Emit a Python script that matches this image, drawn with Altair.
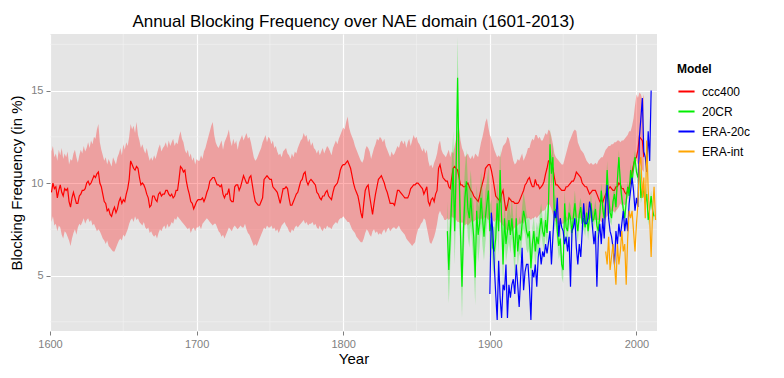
import altair as alt
import pandas as pd

# ---------------- data ----------------
ccc400_start = 1601
ccc400 = [
    9.5, 10.0, 9.7, 9.8, 9.2, 9.6, 9.9, 9.5, 9.3, 9.7,
    9.6, 9.7, 9.0, 8.7, 9.2, 9.5, 9.2, 8.9, 8.9, 9.3,
    9.4, 9.6, 9.6, 9.7, 10.0, 10.1, 9.9, 10.0, 10.2, 10.4,
    10.3, 10.5, 10.6, 10.0, 9.8, 9.4, 9.0, 8.9, 8.5, 8.6,
    8.3, 8.2, 8.5, 8.7, 8.4, 8.6, 9.0, 9.2, 8.9, 9.1,
    9.0, 9.4, 9.7, 10.2, 11.2, 11.0, 10.8, 10.7, 10.9, 10.8,
    10.3, 9.9, 10.0, 9.9, 9.7, 9.4, 9.2, 8.7, 8.8, 9.3,
    9.3, 9.1, 9.0, 9.4, 9.5, 9.3, 9.4, 9.4, 9.6, 9.6,
    9.4, 9.3, 9.4, 9.2, 9.3, 9.6, 9.6, 10.2, 10.9, 10.8,
    10.6, 10.7, 10.1, 9.7, 9.4, 9.0, 8.9, 8.6, 8.8, 9.0,
    9.1, 9.1, 9.1, 9.2, 9.0, 9.2, 9.5, 9.7, 10.1, 10.2,
    10.3, 10.3, 10.1, 9.9, 9.9, 9.8, 9.9, 9.4, 9.2, 9.4,
    9.4, 9.7, 9.1, 9.0, 9.0, 9.8, 9.9, 9.9, 9.6, 9.8,
    10.1, 10.4, 10.2, 10.0, 10.0, 10.3, 10.4, 9.9, 9.4, 9.0,
    8.9, 8.8, 8.8, 9.0, 9.2, 10.2, 10.3, 10.4, 10.3, 10.2,
    10.2, 9.8, 9.7, 9.6, 9.5, 9.2, 8.9, 9.3, 9.7, 9.7,
    9.8, 9.7, 9.2, 8.8, 8.8, 9.0, 9.2, 9.4, 9.5, 9.8,
    10.1, 10.2, 10.5, 10.6, 10.1, 9.9, 10.1, 10.2, 10.1, 10.0,
    9.9, 9.5, 9.4, 9.2, 9.1, 9.3, 9.3, 9.5, 9.6, 9.3,
    9.2, 9.1, 9.5, 9.8, 9.9, 10.0, 10.3, 10.7, 10.9, 11.0,
    11.0, 11.1, 11.2, 11.0, 10.8, 10.4, 10.0, 9.7, 9.5, 9.3,
    8.9, 8.4, 8.1, 8.9, 9.6, 9.8, 9.9, 9.3, 8.8, 8.3,
    8.9, 9.4, 9.8, 10.2, 10.3, 10.4, 10.2, 10.0, 9.7, 9.5,
    9.2, 8.9, 8.9, 8.9, 8.8, 9.2, 9.6, 9.6, 9.5, 9.4,
    9.3, 9.2, 9.2, 9.2, 9.4, 9.7, 9.8, 9.9, 9.9, 10.0,
    10.0, 9.9, 9.8, 9.7, 9.4, 9.6, 9.8, 9.0, 8.8, 9.1,
    9.2, 9.0, 9.4, 9.6, 10.8, 11.0, 10.6, 10.3, 10.2, 10.1,
    10.1, 9.8, 9.7, 10.3, 10.8, 10.9, 10.8, 10.7, 10.3, 9.9,
    9.9, 9.8, 9.8, 9.9, 10.0, 9.8, 9.6, 9.5, 9.3, 9.2,
    9.1, 9.0, 9.3, 9.7, 10.0, 10.3, 10.8, 10.9, 11.0, 11.0,
    10.7, 10.3, 9.8, 9.3, 9.2, 9.1, 9.0, 9.4, 9.6, 9.0,
    8.5, 8.8, 9.2, 9.1, 9.0, 9.0, 8.9, 8.9, 8.9, 9.0,
    9.2, 9.4, 9.6, 9.9, 10.0, 10.2, 10.3, 10.0, 9.8, 9.8,
    10.2, 9.9, 9.9, 9.7, 9.8, 9.9, 10.1, 10.5, 10.8, 11.2,
    11.2, 11.0, 10.8, 10.3, 9.9, 9.9, 9.8, 9.7, 9.6, 9.6,
    9.6, 9.8, 9.8, 9.9, 10.0, 10.1, 10.1, 10.3, 10.6, 10.5,
    10.4, 10.3, 10.0, 9.9, 9.8, 9.8, 9.6, 9.4, 9.5, 9.6,
    9.6, 9.6, 9.4, 9.2, 9.0, 9.1, 8.95, 9.2, 9.4, 9.5,
    9.7, 9.8, 9.7, 9.6, 9.6, 9.8, 9.8, 10.0, 9.9, 9.7,
    9.7, 9.5, 9.4, 9.6, 9.8, 10.1, 10.6, 11.0, 11.3, 11.4,
    11.8, 12.5, 12.4, 12.3, 11.4,
]
ccc400_upper = [
    11.7, 12.0, 11.4, 11.6, 11.2, 11.8, 11.5, 11.9, 11.3, 11.6,
    11.4, 11.7, 11.0, 11.3, 11.2, 11.6, 11.8, 11.4, 11.1, 11.5,
    11.8, 11.6, 12.0, 11.7, 11.9, 12.2, 11.9, 12.3, 12.1, 12.5,
    12.4, 12.9, 13.2, 12.2, 11.8, 11.5, 11.2, 11.4, 11.0, 11.3,
    11.1, 10.9, 11.4, 11.2, 11.0, 11.4, 11.6, 11.9, 11.5, 12.1,
    11.8, 12.2, 12.0, 12.5, 13.2, 12.9, 13.1, 12.7, 13.3, 12.6,
    12.3, 11.9, 12.1, 11.8, 11.6, 11.9, 11.5, 11.2, 11.4, 11.2,
    11.5, 11.3, 11.6, 11.9, 12.1, 11.7, 11.9, 12.0, 12.2, 11.9,
    12.3, 12.0, 12.2, 12.4, 12.0, 12.2, 12.1, 12.5, 12.8, 12.4,
    12.2, 11.8, 11.6, 11.8, 11.4, 11.6, 11.2, 11.4, 11.0, 11.3,
    11.2, 11.2, 11.5, 11.3, 11.7, 11.9, 12.2, 12.5, 12.8, 13.1,
    13.3, 12.6, 12.2, 12.0, 11.9, 12.1, 12.3, 11.8, 12.2, 12.4,
    12.6, 12.9, 12.3, 12.0, 12.4, 12.1, 12.3, 11.8, 12.2, 12.4,
    12.6, 12.3, 12.5, 12.7, 12.4, 12.5, 12.2, 11.8, 11.4, 11.2,
    11.3, 11.5, 11.7, 11.9, 12.2, 12.4, 12.6, 12.2, 12.5, 12.4,
    12.1, 12.3, 11.9, 12.0, 11.7, 11.5, 11.6, 11.4, 11.7, 11.8,
    11.9, 11.6, 11.5, 11.3, 11.6, 11.4, 11.7, 11.6, 11.9, 12.1,
    12.3, 12.4, 12.7, 12.5, 12.6, 12.2, 12.4, 12.0, 12.2, 11.9,
    11.8, 11.6, 11.8, 11.5, 11.7, 11.9, 11.6, 11.8, 12.0, 11.9,
    11.7, 11.5, 11.9, 12.1, 12.3, 12.1, 12.4, 12.6, 12.8, 13.0,
    12.9, 13.3, 13.6, 13.0, 12.7, 12.5, 12.3, 12.0, 11.8, 11.6,
    11.4, 11.2, 11.1, 11.3, 11.8, 12.0, 11.9, 11.7, 11.3, 11.6,
    11.9, 12.1, 12.4, 12.3, 12.5, 12.4, 12.2, 12.4, 12.0, 11.8,
    11.6, 11.4, 11.7, 11.5, 11.6, 11.8, 12.0, 11.9, 12.2, 12.3,
    12.1, 12.3, 11.9, 12.2, 12.4, 12.0, 12.3, 12.6, 12.4, 12.5,
    12.2, 12.1, 11.9, 11.7, 11.9, 11.6, 11.8, 11.2, 10.9, 11.0,
    10.8, 11.1, 11.3, 11.6, 12.1, 12.3, 11.8, 11.6, 11.5, 11.4,
    11.6, 11.8, 11.4, 11.7, 11.6, 12.0, 12.4, 12.8, 13.0, 12.3,
    11.9, 11.7, 11.4, 11.5, 11.6, 11.4, 11.3, 11.5, 11.3, 11.6,
    11.5, 11.4, 11.8, 12.2, 12.5, 12.9, 13.3, 13.5, 13.0, 12.6,
    12.4, 12.1, 11.8, 11.6, 11.4, 11.5, 11.4, 11.7, 12.0, 12.1,
    12.2, 12.5, 12.4, 12.0, 11.6, 11.2, 11.0, 11.1, 11.3, 11.2,
    11.4, 11.6, 11.2, 11.4, 11.6, 11.9, 11.9, 12.2, 12.4, 12.3,
    12.6, 12.6, 12.4, 12.5, 12.3, 12.3, 12.5, 12.7, 12.6, 12.9,
    12.8, 12.5, 12.1, 11.6, 11.4, 11.3, 11.2, 11.1, 11.0, 11.0,
    11.3, 11.6, 11.9, 12.2, 12.4, 12.6, 12.8, 12.9, 12.8, 12.2,
    12.0, 11.8, 11.7, 11.6, 11.4, 11.2, 11.1, 11.0, 11.1, 11.0,
    11.0, 11.1, 11.0, 11.2, 11.3, 11.4, 11.4, 11.6, 11.8, 11.9,
    12.0, 12.0, 12.1, 12.1, 12.2, 12.2, 12.3, 12.3, 12.2, 12.3,
    12.3, 12.4, 12.5, 12.6, 12.8, 12.8, 13.1, 13.5, 14.2, 14.8,
    14.6, 14.9, 14.8, 14.5, 14.8,
]
ccc400_lower = [
    7.9, 8.2, 7.7, 7.8, 7.4, 7.7, 7.6, 7.2, 7.0, 7.4,
    7.3, 7.1, 6.9, 6.6, 7.0, 7.3, 7.5, 7.2, 7.6, 7.8,
    7.7, 7.9, 8.1, 7.8, 8.0, 8.1, 7.9, 8.0, 7.7, 7.8,
    7.6, 7.4, 7.5, 7.4, 7.2, 7.0, 6.9, 6.7, 6.9, 6.6,
    6.5, 6.4, 6.3, 6.3, 6.5, 6.7, 6.9, 7.0, 6.9, 7.2,
    7.1, 7.3, 7.5, 7.8, 8.0, 8.1, 7.9, 8.2, 8.0, 8.1,
    7.9, 7.8, 7.7, 7.9, 7.6, 7.5, 7.6, 7.3, 7.4, 7.2,
    7.1, 7.2, 7.0, 7.3, 7.5, 7.4, 7.6, 7.7, 7.5, 7.8,
    7.6, 7.7, 7.9, 7.8, 8.1, 8.0, 8.2, 8.1, 8.0, 7.9,
    7.8, 7.7, 7.6, 7.5, 7.6, 7.3, 7.5, 7.6, 7.4, 7.6,
    7.6, 7.7, 7.5, 7.8, 7.9, 8.0, 8.1, 8.0, 7.9, 7.8,
    7.7, 7.8, 7.8, 7.6, 7.4, 7.3, 7.1, 7.2, 7.0, 7.2,
    7.4, 7.6, 7.5, 7.4, 7.6, 7.7, 7.6, 7.5, 7.6, 7.7,
    7.6, 7.6, 7.8, 7.5, 7.3, 7.2, 7.0, 6.8, 6.6, 6.7,
    6.6, 6.8, 7.0, 7.2, 7.4, 7.6, 7.5, 7.7, 7.6, 7.6,
    7.7, 7.5, 7.6, 7.4, 7.5, 7.3, 7.5, 7.7, 7.8, 7.9,
    7.7, 7.6, 7.4, 7.3, 7.5, 7.4, 7.6, 7.7, 7.6, 7.7,
    7.8, 7.9, 8.0, 7.8, 7.9, 7.7, 7.8, 7.8, 7.9, 7.7,
    7.8, 7.6, 7.5, 7.7, 7.5, 7.4, 7.6, 7.5, 7.7, 7.6,
    7.6, 7.5, 7.7, 7.8, 7.9, 7.8, 8.0, 8.1, 8.1, 8.2,
    8.1, 8.0, 7.9, 7.9, 7.7, 7.5, 7.4, 7.3, 7.1, 7.0,
    6.9, 6.8, 6.8, 7.0, 7.3, 7.5, 7.4, 7.2, 7.1, 7.4,
    7.5, 7.3, 7.4, 7.2, 7.3, 7.2, 7.4, 7.5, 7.3, 7.5,
    7.6, 7.4, 7.5, 7.6, 7.6, 7.5, 7.6, 7.7, 7.5, 7.4,
    7.3, 7.2, 7.0, 6.9, 6.8, 6.7, 6.6, 6.7, 6.8, 7.2,
    7.5, 7.6, 7.8, 7.9, 8.1, 8.0, 7.6, 7.2, 6.8, 6.7,
    6.9, 7.1, 7.4, 7.8, 8.3, 8.5, 8.3, 8.2, 8.0, 8.0,
    8.1, 8.0, 8.1, 8.2, 8.1, 8.2, 8.0, 7.9, 7.9, 7.8,
    7.9, 7.8, 7.7, 7.8, 7.7, 7.8, 7.9, 8.0, 7.9, 8.0,
    8.0, 8.1, 8.0, 8.1, 8.0, 8.1, 8.2, 8.1, 8.0, 8.1,
    8.1, 8.0, 7.9, 8.0, 8.0, 8.0, 7.9, 7.8, 7.7, 7.6,
    7.5, 7.4, 7.5, 7.4, 7.4, 7.5, 7.6, 7.6, 7.7, 7.8,
    7.8, 7.9, 7.8, 8.0, 8.1, 8.1, 8.1, 8.0, 8.1, 8.1,
    8.2, 8.1, 8.2, 8.3, 8.4, 8.5, 8.5, 8.6, 8.8, 8.9,
    8.8, 8.6, 8.3, 8.0, 7.9, 7.8, 7.8, 7.8, 7.8, 7.8,
    7.9, 7.9, 8.0, 8.0, 8.1, 8.0, 8.1, 8.1, 8.2, 8.1,
    8.1, 8.1, 8.0, 8.1, 8.1, 8.0, 8.0, 8.1, 8.1, 8.0,
    8.0, 8.0, 8.0, 8.0, 8.0, 7.9, 7.9, 8.0, 8.1, 8.2,
    8.3, 8.4, 8.5, 8.5, 8.4, 8.5, 8.6, 8.7, 8.9, 8.8,
    8.9, 8.8, 8.9, 9.2, 9.6, 10.0, 10.3, 10.6, 10.9, 11.2,
    11.0, 11.1, 10.9, 10.7, 10.6,
]

cr20_start = 1871
cr20 = [
    7.4, 5.3, 7.2, 9.2, 10.8, 7.4, 10.7, 15.7, 10.8, 7.2,
    4.4, 7.5, 9.2, 10.1, 8.6, 8.1, 9.2, 8.0, 7.1, 4.9,
    8.5, 7.2, 7.8, 9.2, 8.1, 7.1, 8.2, 8.9, 9.6, 7.4,
    7.8, 6.5, 6.3, 7.0, 8.9, 7.4, 10.7, 8.1, 5.6, 8.1,
    6.7, 7.4, 8.0, 7.2, 8.1, 7.1, 6.0, 8.1, 6.3, 7.2,
    6.9, 7.8, 8.5, 8.1, 7.4, 7.1, 7.4, 5.4, 6.7, 7.4,
    6.3, 7.1, 6.7, 7.5, 8.1, 7.4, 7.1, 8.0, 7.3, 8.9,
    12.1, 10.5, 11.4, 8.1, 8.6, 7.4, 6.6, 7.0, 5.6, 5.3,
    8.9, 7.6, 7.4, 8.4, 8.1, 7.3, 8.2, 8.9, 8.0, 7.4,
    8.3, 8.7, 7.8, 8.1, 7.6, 8.4, 7.4, 8.2, 8.9, 7.9,
    8.1, 8.6, 7.7, 7.4, 8.3, 9.6, 8.6, 8.1, 9.0, 10.7,
    9.2, 8.4, 8.1, 9.0, 9.4, 8.7, 10.2, 11.4, 10.0, 9.2,
    8.6, 8.1, 9.0, 9.8, 9.3, 10.7, 10.0, 10.9, 11.4, 10.6,
    10.3, 11.0, 9.2, 9.7, 9.5, 8.9, 9.4, 8.0, 8.6, 9.3,
    8.5, 8.2,
]
cr20_spread = [
    1.6, 1.8, 1.7, 1.9, 2.0, 1.8, 2.1, 2.2, 2.0, 1.8,
    1.7, 1.8, 1.6, 1.7, 1.5, 1.6, 1.5, 1.4, 1.6, 1.5,
    1.4, 1.5, 1.3, 1.4, 1.5, 1.3, 1.4, 1.2, 1.3, 1.4,
    1.3, 1.2, 1.3, 1.1, 1.2, 1.3, 1.2, 1.1, 1.2, 1.1,
    1.0, 1.1, 1.2, 1.0, 1.1, 1.0, 1.1, 1.0, 0.9, 1.0,
    1.0, 0.9, 1.0, 0.9, 1.0, 0.9, 0.8, 0.9, 0.9, 0.8,
    0.9, 0.8, 0.8, 0.9, 0.8, 0.7, 0.8, 0.8, 0.7, 0.8,
    0.9, 0.8, 0.8, 0.7, 0.8, 0.7, 0.7, 0.8, 0.7, 0.7,
    0.7, 0.6, 0.7, 0.6, 0.7, 0.6, 0.6, 0.7, 0.6, 0.6,
    0.6, 0.5, 0.6, 0.6, 0.5, 0.6, 0.5, 0.5, 0.6, 0.5,
    0.5, 0.5, 0.6, 0.5, 0.5, 0.4, 0.5, 0.5, 0.4, 0.5,
    0.4, 0.5, 0.4, 0.4, 0.5, 0.4, 0.4, 0.4, 0.5, 0.4,
    0.4, 0.4, 0.4, 0.3, 0.4, 0.4, 0.3, 0.4, 0.4, 0.3,
    0.4, 0.3, 0.3, 0.4, 0.3, 0.3, 0.4, 0.3, 0.3, 0.3,
    0.3, 0.3,
]

era20c_start = 1900
era20c = [
    4.0, 8.4, 7.4, 5.6, 4.0, 2.6, 5.8, 3.8, 2.7, 4.5,
    4.2, 5.6, 2.7, 4.5, 3.8, 4.5, 4.8, 4.0, 5.6, 4.5,
    3.3, 4.9, 6.5, 4.2, 5.2, 5.6, 5.6, 4.4, 2.6, 5.3,
    4.9, 5.6, 4.4, 6.0, 6.5, 5.6, 6.3, 6.0, 6.7, 6.2,
    6.8, 7.4, 5.6, 7.1, 8.5, 8.1, 9.2, 7.1, 8.1, 7.6,
    7.4, 6.7, 7.1, 6.3, 7.1, 4.4, 7.4, 7.6, 8.1, 6.5,
    5.6, 6.7, 6.0, 7.4, 8.9, 7.8, 7.8, 8.1, 9.0, 8.5,
    7.6, 6.7, 7.4, 4.4, 7.0, 7.8, 6.7, 8.1, 7.0, 8.9,
    9.9, 8.1, 7.4, 7.1, 6.5, 5.6, 7.4, 6.7, 7.8, 7.1,
    7.8, 8.5, 7.4, 8.1, 7.4, 8.9, 9.6, 10.3, 9.6, 8.5,
    9.2, 8.7, 12.5, 13.5, 14.6, 11.7, 11.4, 10.6, 12.8, 11.2,
    15.0,
]

eraint_start = 1979
eraint = [
    6.3, 5.6, 7.1, 5.3, 6.0, 6.7, 5.6, 4.5, 6.7, 5.6,
    6.3, 7.4, 6.3, 6.7, 4.5, 7.0, 8.5, 8.1, 8.5, 7.4,
    6.3, 7.8, 8.9, 11.0, 11.4, 9.2, 10.3, 8.1, 12.3, 9.6,
    8.1, 6.0, 8.5, 9.8, 8.0,
]

models = ["ccc400", "20CR", "ERA-20c", "ERA-int"]
model_colors = ["#FF0000", "#00EE00", "#0000FF", "#FFA500"]

major_x = [1600, 1700, 1800, 1900, 2000]
minor_x = [1650, 1750, 1850, 1950]
major_y = [5, 10, 15]
minor_y = [2.5, 7.5, 12.5, 17.5]

# ---------------- tables ----------------
def series(start, vals, name):
    return pd.DataFrame({"Year": list(range(start, start + len(vals))),
                         "Freq": vals, "Model": name})

ccc_df = series(ccc400_start, ccc400, "ccc400")
ccc_band = pd.DataFrame({
    "Year": list(range(ccc400_start, ccc400_start + len(ccc400_upper))),
    "lo": ccc400_lower, "hi": ccc400_upper})
cr_df = series(cr20_start, cr20, "20CR")
cr_band = pd.DataFrame({
    "Year": list(range(cr20_start, cr20_start + len(cr20))),
    "lo": [v - s for v, s in zip(cr20, cr20_spread)],
    "hi": [v + s for v, s in zip(cr20, cr20_spread)]})
rest_df = pd.concat([series(era20c_start, era20c, "ERA-20c"),
                     series(eraint_start, eraint, "ERA-int")])

xscale = alt.Scale(domain=[1600, 2014], nice=False, zero=False)
yscale = alt.Scale(domain=[2.0, 18.06], nice=False, zero=False)
cscale = alt.Scale(domain=models, range=model_colors)

FONT = "Liberation Sans"

xaxis = alt.Axis(title="Year", values=major_x, format="d", grid=True,
                 gridColor="white", gridWidth=1.2, domain=False,
                 tickColor="#7F7F7F", tickSize=4, labelColor="#7F7F7F",
                 labelFontSize=11, labelFont=FONT, labelPadding=3,
                 labelFlush=False,
                 titleFont=FONT, titleFontSize=15, titleFontWeight="normal",
                 titleColor="black", titlePadding=2)
yaxis = alt.Axis(title="Blocking Frequency (in %)", values=major_y, grid=True,
                 gridColor="white", gridWidth=1.2, domain=False,
                 tickColor="#7F7F7F", tickSize=4, labelColor="#7F7F7F",
                 labelFontSize=11, labelFont=FONT, labelPadding=3,
                 labelFlush=False,
                 titleFont=FONT, titleFontSize=15, titleFontWeight="normal",
                 titleColor="black", titlePadding=6)

minor_v = alt.Chart(pd.DataFrame({"g": minor_x})).mark_rule(
    color="#F2F2F2", strokeWidth=0.6).encode(
    x=alt.X("g:Q", scale=xscale, axis=xaxis))
minor_h = alt.Chart(pd.DataFrame({"g": minor_y})).mark_rule(
    color="#F2F2F2", strokeWidth=0.6).encode(
    y=alt.Y("g:Q", scale=yscale, axis=yaxis))

band_ccc = alt.Chart(ccc_band).mark_area(color="#FF0000", opacity=0.3).encode(
    x=alt.X("Year:Q", scale=xscale, axis=xaxis),
    y=alt.Y("lo:Q", scale=yscale, axis=yaxis),
    y2="hi:Q")

legend = alt.Legend(title="Model", orient="none", legendX=627, legendY=30,
                    titleFont=FONT, titleFontSize=12, titleFontWeight="bold",
                    titleColor="black", titlePadding=6,
                    labelFont=FONT, labelFontSize=12, labelColor="black",
                    symbolType="stroke", symbolStrokeWidth=2, symbolSize=260,
                    rowPadding=4, labelOffset=6)

color_enc = alt.Color("Model:N", scale=cscale, legend=legend)

LW = 1.2

line_ccc = alt.Chart(ccc_df).mark_line(strokeWidth=LW).encode(
    x=alt.X("Year:Q", scale=xscale, axis=xaxis),
    y=alt.Y("Freq:Q", scale=yscale, axis=yaxis),
    color=color_enc)

band_cr = alt.Chart(cr_band).mark_area(color="#00EE00", opacity=0.28).encode(
    x=alt.X("Year:Q", scale=xscale, axis=xaxis),
    y=alt.Y("lo:Q", scale=yscale, axis=yaxis),
    y2="hi:Q")

line_cr = alt.Chart(cr_df).mark_line(strokeWidth=LW).encode(
    x=alt.X("Year:Q", scale=xscale, axis=xaxis),
    y=alt.Y("Freq:Q", scale=yscale, axis=yaxis),
    color=color_enc)

line_rest = alt.Chart(rest_df).mark_line(strokeWidth=LW).encode(
    x=alt.X("Year:Q", scale=xscale, axis=xaxis),
    y=alt.Y("Freq:Q", scale=yscale, axis=yaxis),
    color=color_enc, detail="Model:N")

chart = alt.layer(minor_v, minor_h, band_ccc, line_ccc, band_cr, line_cr,
                  line_rest).properties(
    width=607, height=297,
    background="white",
    title=alt.TitleParams("Annual Blocking Frequency over NAE domain (1601-2013)",
                          font=FONT, fontSize=17, fontWeight="normal",
                          color="black", anchor="middle", offset=3),
    autosize=alt.AutoSizeParams(type="none"),
    padding={"left": 50, "top": 34, "right": 127, "bottom": 47},
).configure_view(fill="#E5E5E5", stroke=None)

chart.save("out.html", embed_options={"renderer": "svg", "actions": False})
